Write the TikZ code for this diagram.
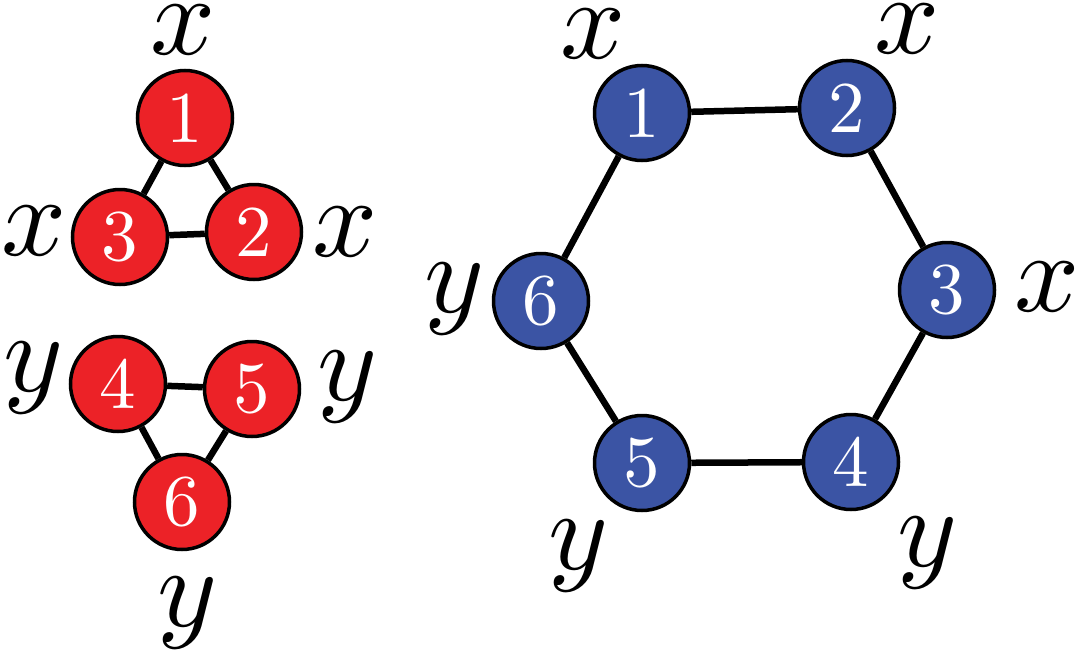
\RequirePackage{fix-cm}
\documentclass[tikz,border=0pt]{standalone}
\usepackage{graphicx}
\definecolor{nred}{HTML}{EC2227}
\definecolor{nblue}{HTML}{3B54A4}
\newcommand{\dig}[1]{\scalebox{7.3}{#1}}
\newcommand{\lbl}[1]{\scalebox{11.4}{$#1$}}
\tikzset{
  vert/.style={circle, draw=black, line width=3.5pt, minimum size=95pt, inner sep=0pt,
    text=white},
  rv/.style={vert, fill=nred},
  bv/.style={vert, fill=nblue},
  lab/.style={inner sep=0pt},
  edge/.style={line width=6.5pt}
}
\begin{document}
\begin{tikzpicture}[x=1pt,y=-1pt]
\useasboundingbox (0,0) rectangle (1078,653);
% red triangles
\node[rv] (r1) at (185,118) {\dig{1}};
\node[rv] (r3) at (120,237) {\dig{3}};
\node[rv] (r2) at (254,232) {\dig{2}};
\node[rv] (r4) at (118,384) {\dig{4}};
\node[rv] (r5) at (252,389) {\dig{5}};
\node[rv] (r6) at (182,502) {\dig{6}};
\draw[edge] (r1) -- (r3);
\draw[edge] (r1) -- (r2);
\draw[edge] (r3) -- (r2);
\draw[edge] (r4) -- (r5);
\draw[edge] (r4) -- (r6);
\draw[edge] (r5) -- (r6);
\node[lab] (lr1) at (183,30) {\lbl{x}};
\node[lab] (lr3) at (34,231) {\lbl{x}};
\node[lab] (lr2) at (345,232) {\lbl{x}};
\node[lab] (lr4) at (33,378) {\lbl{y}};
\node[lab] (lr5) at (347,387) {\lbl{y}};
\node[lab] (lr6) at (187,613) {\lbl{y}};
% blue hexagon
\node[bv] (b1) at (642,113) {\dig{1}};
\node[bv] (b2) at (847,108) {\dig{2}};
\node[bv] (b3) at (947,290) {\dig{3}};
\node[bv] (b4) at (851,462) {\dig{4}};
\node[bv] (b5) at (642,463) {\dig{5}};
\node[bv] (b6) at (541,301) {\dig{6}};
\draw[edge] (b1) -- (b2);
\draw[edge] (b2) -- (b3);
\draw[edge] (b3) -- (b4);
\draw[edge] (b4) -- (b5);
\draw[edge] (b5) -- (b6);
\draw[edge] (b6) -- (b1);
\node[lab] (lb1) at (593,34) {\lbl{x}};
\node[lab] (lb2) at (907,29) {\lbl{x}};
\node[lab] (lb3) at (1047,287) {\lbl{x}};
\node[lab] (lb4) at (927,553) {\lbl{y}};
\node[lab] (lb5) at (578,556) {\lbl{y}};
\node[lab] (lb6) at (454,299) {\lbl{y}};
\end{tikzpicture}
\end{document}
